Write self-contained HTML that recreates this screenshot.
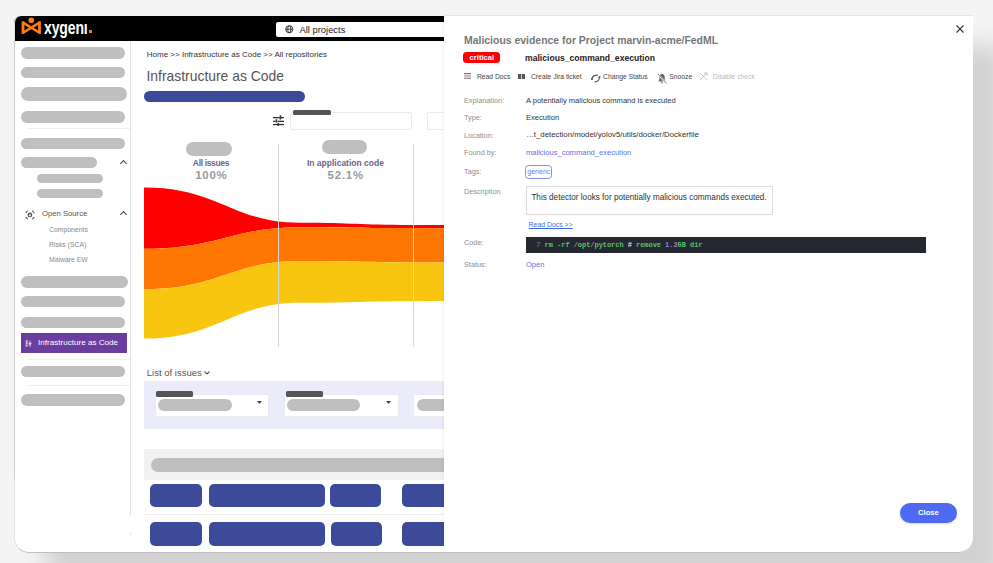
<!DOCTYPE html>
<html><head><meta charset="utf-8">
<style>
*{box-sizing:border-box;margin:0;padding:0}
html,body{width:993px;height:563px;overflow:hidden;background:#f4f4f4;font-family:"Liberation Sans",Arial,sans-serif}
.a{position:absolute;white-space:nowrap}
#win{position:absolute;left:14px;top:16px;width:959px;height:537px;border-radius:7px 0 15px 15px;background:#fff;overflow:hidden;box-shadow:32px 30px 25px rgba(0,0,0,0.14)}
#pg{position:absolute;left:-14px;top:-16px;width:993px;height:563px}
.sk{position:absolute;background:#bfbfbf;border-radius:7px}
.dv{position:absolute;height:1px;background:#efefef}
.blk{position:absolute;background:#3d4a9a;border-radius:5px}
.vl{position:absolute;width:1px;background:#d6d6d6}
.sub{position:absolute;left:49px;font-size:6.85px;color:#888;line-height:9px}
.chev{position:absolute;width:5px;height:5px;border-left:1.3px solid #444;border-top:1.3px solid #444;transform:rotate(45deg)}
.lbl{position:absolute;left:464px;font-size:7.3px;color:#8e8e8e;line-height:9px}
.val{position:absolute;left:526px;font-size:7.55px;color:#333;line-height:9px}
.act{position:absolute;font-size:6.75px;color:#444;line-height:9px;top:72px}
</style></head>
<body>
<div id="win"><div id="pg">
  <!-- header -->
  <div class="a" style="left:0;top:0;width:993px;height:41px;background:#000"></div>
  <svg class="a" style="left:20px;top:16px" width="24" height="20" viewBox="20 16 24 20" fill="#fb7d0c">
    <circle cx="31.3" cy="20.2" r="2.8"/>
    <rect x="21.6" y="21.4" width="2.8" height="12.4"/>
    <rect x="38.1" y="21.4" width="2.8" height="12.4"/>
    <path d="M22.6 22.4L40 33M22.6 33L40 22.4" stroke="#fb7d0c" stroke-width="2.6" fill="none"/>
  </svg>
  <div class="a" style="left:43.5px;top:17.5px;color:#fff;font-weight:bold;font-size:17.8px;letter-spacing:-0.2px;transform:scaleX(0.79);transform-origin:0 0;line-height:20px">xygenı</div>
  <div class="a" style="left:88.9px;top:29.7px;width:2.8px;height:3px;background:#fb7d0c"></div>
  <div class="a" style="left:276px;top:22px;width:200px;height:14.5px;background:#fff;border-radius:2px"></div>
  <svg class="a" style="left:285px;top:25px" width="8.5" height="8.5" viewBox="0 0 24 24"><circle cx="12" cy="12" r="10" fill="none" stroke="#222" stroke-width="2.6"/><ellipse cx="12" cy="12" rx="4.2" ry="10" fill="none" stroke="#222" stroke-width="2.4"/><path d="M2 12h20" stroke="#222" stroke-width="2.4"/></svg>
  <div class="a" style="left:299.5px;top:23.3px;font-size:9.4px;color:#222;line-height:13px">All projects</div>

  <!-- sidebar -->
  <div class="a" style="left:130px;top:41px;width:1px;height:474px;background:#e4e4e4"></div><div class="a" style="left:130px;top:532px;width:1px;height:3px;background:#e8e8e8"></div>
  <div class="sk" style="left:21px;top:46.5px;width:103.5px;height:12px"></div>
  <div class="sk" style="left:21px;top:66.5px;width:103.5px;height:11.5px"></div>
  <div class="sk" style="left:21px;top:87px;width:105.5px;height:13.5px"></div>
  <div class="sk" style="left:21px;top:111px;width:103.5px;height:11.5px"></div>
  <div class="dv" style="left:26.5px;top:127.5px;width:103.5px"></div>
  <div class="sk" style="left:21px;top:137.5px;width:103.5px;height:11.5px"></div>
  <div class="sk" style="left:21px;top:156.5px;width:75.5px;height:11.5px"></div>
  <div class="chev" style="left:120.5px;top:160.5px"></div>
  <div class="sk" style="left:37.2px;top:174px;width:65.4px;height:9px"></div>
  <div class="sk" style="left:37.2px;top:188.6px;width:65.4px;height:9px"></div>
  <svg class="a" style="left:24.5px;top:209.5px" width="10" height="10" viewBox="0 0 10 10" fill="none" stroke="#555" stroke-width="1.1" stroke-linecap="round"><path d="M1 2.6L2.4 1.2M7.6 1.2L9 2.6M9 7.4L7.6 8.8M2.4 8.8L1 7.4"/><circle cx="4.9" cy="4.9" r="1.8"/><path d="M3.3 4.8H6.5" stroke-width="0.7"/></svg>
  <div class="a" style="left:42px;top:208.9px;font-size:7.7px;color:#555;line-height:10px">Open Source</div>
  <div class="chev" style="left:120.5px;top:212.3px"></div>
  <div class="sub" style="top:225.3px">Components</div>
  <div class="sub" style="top:240px">Risks (SCA)</div>
  <div class="sub" style="top:255.1px">Malware EW</div>
  <div class="sk" style="left:21px;top:275.8px;width:107px;height:12.5px"></div>
  <div class="sk" style="left:21px;top:295.7px;width:103.5px;height:11.5px"></div>
  <div class="sk" style="left:21px;top:316.7px;width:103.5px;height:11.5px"></div>
  <div class="a" style="left:20.5px;top:332.5px;width:106.2px;height:20.5px;background:#6a3d9e"></div>
  <svg class="a" style="left:24.5px;top:339.5px" width="7" height="7.5" viewBox="0 0 7 7.5" fill="none" stroke="#fff" stroke-width="0.8"><path d="M0.5 0.8H2.6L1.2 2.6H2.7M0.5 3.8H2.7M0.5 5.2H2.6L0.8 7"/><path d="M5 0.8C5 3.2 5.4 3.8 6.6 3.8C5.4 3.8 5 4.6 5 7C5 4.6 4.6 3.8 3.4 3.8C4.6 3.8 5 3.2 5 0.8Z" fill="#fff" stroke-width="0.4"/></svg>
  <div class="a" style="left:38px;top:337.5px;font-size:8.1px;color:#fff;line-height:10px">Infrastructure as Code</div>
  <div class="dv" style="left:26.5px;top:359px;width:103.5px"></div>
  <div class="sk" style="left:21px;top:365.5px;width:103.5px;height:11px"></div>
  <div class="dv" style="left:26.5px;top:385px;width:103.5px"></div>
  <div class="sk" style="left:21px;top:394.4px;width:103.5px;height:11.4px"></div>

  <!-- main -->
  <div class="a" style="left:146.8px;top:49.5px;font-size:8px;color:#333;line-height:9px">Home &gt;&gt; Infrastructure as Code &gt;&gt; All repositories</div>
  <div class="a" style="left:146.5px;top:67.5px;font-size:13.9px;color:#555;line-height:16px">Infrastructure as Code</div>
  <div class="a" style="left:143.5px;top:91px;width:161.5px;height:11px;background:#3d4a9a;border-radius:6px"></div>
  <svg class="a" style="left:272px;top:114px" width="13" height="13" viewBox="272 114 13 13" fill="#333"><rect x="273" y="117" width="11" height="1.3"/><rect x="279.7" y="115.3" width="1.5" height="4.2"/><rect x="273" y="120.7" width="2.4" height="1.3"/><rect x="277.6" y="120.7" width="6.4" height="1.3"/><rect x="275.6" y="119.3" width="1.5" height="3.3"/><rect x="273" y="123.9" width="11" height="1.3"/><rect x="277.5" y="122.8" width="1.5" height="3.2"/></svg>
  <div class="a" style="left:290px;top:112.4px;width:122px;height:17.3px;border:1px solid #ebebeb;border-radius:2px"></div>
  <div class="a" style="left:293px;top:110px;width:37.5px;height:5.3px;background:#555;border-radius:1.5px"></div>
  <div class="a" style="left:426.5px;top:112.4px;width:40px;height:17.3px;border:1px solid #ebebeb;border-radius:2px"></div>

  <div class="sk" style="left:185.6px;top:142px;width:46.4px;height:13.7px"></div>
  <div class="sk" style="left:321.6px;top:140.4px;width:45.7px;height:13.7px"></div>
  <div class="a" style="left:211px;top:158px;transform:translateX(-50%);font-size:8.5px;font-weight:bold;color:#6e6290;line-height:10px;letter-spacing:-0.34px">All issues</div>
  <div class="a" style="left:211px;top:168.5px;transform:translateX(-50%);font-size:11.5px;font-weight:bold;color:#9a9a9a;line-height:13px;letter-spacing:0.7px;text-indent:0.7px">100%</div>
  <div class="a" style="left:345.4px;top:158px;transform:translateX(-50%);font-size:8.5px;font-weight:bold;color:#6e6290;line-height:10px">In application code</div>
  <div class="a" style="left:345.4px;top:168.5px;transform:translateX(-50%);font-size:11.5px;font-weight:bold;color:#9a9a9a;line-height:13px;letter-spacing:0.75px;text-indent:0.75px">52.1%</div>

  <svg class="a" style="left:0;top:0" width="993" height="563" viewBox="0 0 993 563">
    <path fill="#fe0000" d="M144 187.5C218.9 187.5 231.4 222.7 300 222.7C356 222.7 356 224.9 412 224.9L445 225V228.3L412 228.1C356 228.1 356 227.2 300 227.2C231.4 227.2 218.9 248.8 144 248.8Z"/>
    <path fill="#fd7702" d="M144 248.8C218.9 248.8 231.4 227.2 300 227.2C356 227.2 356 228.1 412 228.1L445 228.3V262.6L412 262.4C356 262.4 356 261.1 300 261.1C231.4 261.1 218.9 289.3 144 289.3Z"/>
    <path fill="#f8c511" d="M144 289.3C218.9 289.3 231.4 261.1 300 261.1C356 261.1 356 262.4 412 262.4L445 262.6V301L412 301.2C356 301.2 356 302.8 300 302.8C231.4 302.8 218.9 338.6 144 338.6Z"/>
  </svg>
  <div class="vl" style="left:278px;top:144px;height:203px"></div>
  <div class="vl" style="left:412.5px;top:144px;height:203px"></div>

  <div class="a" style="left:146.8px;top:367px;font-size:9.5px;color:#555;line-height:11px">List of issues</div>
  <svg class="a" style="left:204px;top:370.5px" width="6" height="4" viewBox="0 0 6 4"><path d="M0.5 0.5L3 3L5.5 0.5" fill="none" stroke="#555" stroke-width="1.1"/></svg>
  <div class="a" style="left:144px;top:381.3px;width:310px;height:47.7px;background:#ebebfa"></div>
  <div class="a" style="left:155.2px;top:394.2px;width:114px;height:22.6px;background:#fff;border:1px solid #e9e9f0"></div>
  <div class="a" style="left:155.8px;top:391px;width:37.7px;height:6px;background:#555;border-radius:1.5px"></div>
  <div class="sk" style="left:158.4px;top:399.3px;width:73.5px;height:11.7px;border-radius:6px"></div>
  <svg class="a" style="left:257.2px;top:400.6px" width="5" height="3" viewBox="0 0 5 3"><path d="M0 0H5L2.5 3Z" fill="#444"/></svg>
  <div class="a" style="left:284px;top:394.2px;width:115px;height:22.6px;background:#fff;border:1px solid #e9e9f0"></div>
  <div class="a" style="left:285.7px;top:391px;width:37.5px;height:6px;background:#555;border-radius:1.5px"></div>
  <div class="sk" style="left:286.8px;top:399.3px;width:73.4px;height:11.7px;border-radius:6px"></div>
  <svg class="a" style="left:386px;top:400.6px" width="5" height="3" viewBox="0 0 5 3"><path d="M0 0H5L2.5 3Z" fill="#444"/></svg>
  <div class="a" style="left:412.8px;top:394.2px;width:60px;height:22.6px;background:#fff;border:1px solid #e9e9f0"></div>
  <div class="sk" style="left:417px;top:399.3px;width:73px;height:11.7px;border-radius:6px"></div>

  <div class="a" style="left:144px;top:449px;width:310px;height:31.3px;background:#f1f1f1"></div>
  <div class="sk" style="left:151px;top:457.7px;width:300px;height:14.5px;border-radius:7px"></div>
  <div class="blk" style="left:150px;top:484px;width:51.5px;height:23px"></div>
  <div class="blk" style="left:209px;top:484px;width:116px;height:23px"></div>
  <div class="blk" style="left:329.8px;top:484px;width:51.6px;height:23px"></div>
  <div class="blk" style="left:402.3px;top:484px;width:60px;height:23px"></div>
  <div class="dv" style="left:144px;top:514px;width:310px"></div>
  <div class="blk" style="left:150px;top:521.6px;width:51.5px;height:24px"></div>
  <div class="blk" style="left:209px;top:521.6px;width:116px;height:24px"></div>
  <div class="blk" style="left:330.8px;top:521.6px;width:51.6px;height:24px"></div>
  <div class="blk" style="left:402.3px;top:521.6px;width:60px;height:24px"></div>

  <!-- modal -->
  <div class="a" style="left:444px;top:16px;width:529px;height:537px;background:#fff;box-shadow:-1px 0 3px rgba(0,0,0,0.06)"></div>
  <svg class="a" style="left:955.9px;top:25.2px" width="8" height="8" viewBox="0 0 8 8"><path d="M0.5 0.5L7.5 7.5M7.5 0.5L0.5 7.5" stroke="#333" stroke-width="1.1"/></svg>
  <div class="a" style="left:464px;top:34px;font-size:10.45px;font-weight:bold;color:#777;line-height:13px">Malicious evidence for Project marvin-acme/FedML</div>
  <div class="a" style="left:463.2px;top:52px;width:36.9px;height:10.5px;background:#fe0000;border-radius:3.5px"></div><div class="a" style="left:469.6px;top:52.6px;color:#fff;font-size:7.6px;font-weight:bold;line-height:10.6px">critical</div>
  <div class="a" style="left:525px;top:52.5px;font-size:9.3px;font-weight:bold;color:#222;line-height:11px;transform:scaleX(0.925);transform-origin:0 0">malicious_command_execution</div>

  <svg class="a" style="left:464.2px;top:73.3px" width="7" height="6" viewBox="0 0 7 6" fill="#777"><rect x="0" y="0" width="7" height="1.2"/><rect x="0" y="2.3" width="7" height="1.2" fill="#999"/><rect x="0" y="4.6" width="7" height="1.2" fill="#888"/></svg>
  <div class="act" style="left:476.9px">Read Docs</div>
  <svg class="a" style="left:518px;top:73.7px" width="7.3" height="5" viewBox="0 0 7.3 5" fill="#555"><rect x="0" y="0" width="3.3" height="5"/><rect x="4" y="0" width="3.3" height="5"/></svg>
  <div class="act" style="left:531px">Create Jira ticket</div>
  <svg class="a" style="left:588px;top:71px" width="14" height="14" viewBox="588 71 14 14" fill="none" stroke="#555" stroke-width="1.1" stroke-linecap="round"><path d="M592.2 78.6Q592.6 75.3 597.4 75.1"/><path d="M599.5 77.3Q599.2 81.6 594.8 82"/><circle cx="592" cy="78.9" r="1.05" fill="#555" stroke="none"/><circle cx="599.5" cy="77.1" r="1.05" fill="#555" stroke="none"/></svg>
  <div class="act" style="left:603.1px">Change Status</div>
  <svg class="a" style="left:656px;top:72px" width="12" height="13" viewBox="656 72 12 13"><path d="M658.2 81.6L659.3 80.2V77.3C659.3 75.3 660.4 74.1 662 73.8C663.6 74.1 664.7 75.3 664.7 77.3V80.2L665.8 81.6Z" fill="#666"/><circle cx="662" cy="82.7" r="0.8" fill="#666"/><path d="M657.6 73.6L666.4 83.6" stroke="#fff" stroke-width="1.6"/><path d="M657.8 73.6L666.4 83.4" stroke="#666" stroke-width="0.8"/></svg>
  <div class="act" style="left:669.3px">Snooze</div>
  <svg class="a" style="left:699px;top:71.5px" width="10" height="9" viewBox="699 71.5 10 9" fill="none" stroke="#bbb" stroke-width="0.9" stroke-linecap="round"><path d="M700.5 73L707 79.3M706.5 72.5L701 78.5M700.3 79.2L701.5 78M704.5 72.5L707.2 72.8L707 75"/></svg>
  <div class="act" style="left:712.8px;color:#bbb">Disable check</div>

  <div class="lbl" style="top:96px">Explanation:</div>
  <div class="val" style="top:96px">A potentially malicious command is executed</div>
  <div class="lbl" style="top:113.4px">Type:</div>
  <div class="val" style="top:113.4px">Execution</div>
  <div class="lbl" style="top:130.6px">Location:</div>
  <div class="val" style="top:130.4px;font-size:7.82px">…t_detection/model/yolov5/utils/docker/Dockerfile</div>
  <div class="lbl" style="top:148.2px">Found by:</div>
  <div class="val" style="top:148.2px;color:#5b70ec">malicious_command_execution</div>
  <div class="lbl" style="top:167.3px">Tags:</div>
  <div class="a" style="left:525.3px;top:164.8px;width:27px;height:14.1px;border:1px solid #7d8ef0;border-radius:3.5px;color:#6a7ced;font-size:7px;line-height:12px;text-align:center">generic</div>
  <div class="lbl" style="top:187px">Description</div>
  <div class="a" style="left:525.5px;top:185.6px;width:247.3px;height:29.1px;border:1px solid #dcdcdc"></div>
  <div class="a" style="left:531.4px;top:193.2px;font-size:8.17px;color:#333;line-height:9px">This detector looks for potentially malicious commands executed.</div>
  <div class="a" style="left:528.6px;top:219.6px;font-size:6.9px;color:#3a6fd8;line-height:9px;text-decoration:underline">Read Docs &gt;&gt;</div>
  <div class="lbl" style="top:238px">Code:</div>
  <div class="a" style="left:525.6px;top:236.6px;width:400.4px;height:16.2px;background:#252731"></div>
  <div class="a" style="left:536.3px;top:241.3px;font-family:'Liberation Mono',monospace;font-weight:bold;font-size:6.93px;line-height:9px;white-space:pre;color:#55c46d"><span style="color:#606a70">7</span> rm <span style="color:#c678a8">-</span>rf <span style="color:#c678a8">/</span>opt<span style="color:#c678a8">/</span>pytorch <span style="color:#e0e0e0">#</span> remove <span style="color:#a67ad8">1.2</span>GB dir</div>
  <div class="lbl" style="top:260px">Status:</div>
  <div class="val" style="top:260px;color:#5b70ec">Open</div>

  <div class="a" style="left:899.5px;top:503px;width:57.8px;height:19.8px;background:#4f6af0;border-radius:10px;color:#fff;font-size:7.6px;font-weight:bold;text-align:center;line-height:20.6px;box-shadow:0 1px 2px rgba(0,0,0,0.15)">Close</div>
</div></div>
<div class="a" style="left:14px;top:16px;width:959px;height:537px;border-radius:7px 0 15px 15px;border:1px solid #e3e3e3;border-top:0;border-right:0;border-bottom-color:#bdbdbd"></div>
<div class="a" style="left:14px;top:41px;width:1px;height:438px;background:#cfcfcf"></div>
<div class="a" style="left:444px;top:15px;width:529px;height:1px;background:#e6e6e6"></div>
</body></html>
